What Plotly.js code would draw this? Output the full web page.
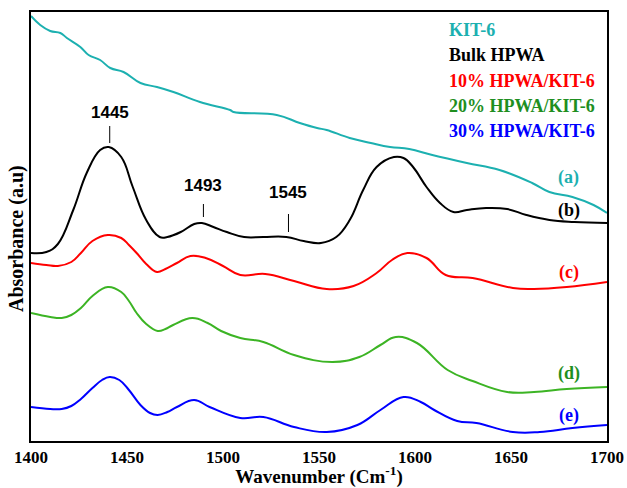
<!DOCTYPE html>
<html>
<head>
<meta charset="utf-8">
<script src="https://cdn.plot.ly/plotly-3.0.1.min.js"></script>
<style>html,body{margin:0;padding:0;background:#fff;}#chart{width:627px;height:488px;}</style>
</head>
<body>
<div id="chart"></div>
<script>
// (a) KIT-6
const kitX = [1400,1404.8,1410,1415.3,1418.7,1425.7,1430,1436,1441.3,1448.2,1457,1465.6,1474.2,1488,1503.7,1505.5,1528,1540,1549,1554,1566,1577,1587,1597,1609,1627,1644,1661,1670,1682,1693,1700];
const kitY = [425,416,410,408,403,394,386,381,373,369,358,354,349,339,331,329,326,318,313,311,303,298,294,292,286,278,271,258,249,244,236,228];
// (b) Bulk HPWA
const bulkX = [1400,1408,1414,1422,1429,1436,1440.5,1447,1453,1460,1467,1471,1478,1485,1489,1495,1502,1511,1521,1533,1542,1551,1559,1566,1573,1580,1589,1594,1599,1606,1613,1620,1627,1637,1648,1658,1670,1683,1700];
const bulkY = [188,189,197,231,268,291,294,284,254,221,204,204,209,217,218,214,209,204,204,204,200,198,204,221,251,274,284,283,274,254,238,229,231,233,232,226,221,219,218];
// (c) 10% HPWA/KIT-6
const p10X = [1400,1408,1414,1421,1426,1432,1440,1447,1451,1455,1460,1465.6,1470,1476,1483,1491,1500,1509,1522,1537,1554,1568,1580,1588,1596,1606,1616,1630,1651,1662,1679,1700];
const p10Y = [178,176,175,179,188,200,206,203,196,188,177,169,172,178,185,183,175,166,167,160,152,155,168,181,188,183,166,163,153,152,154,159];
// (d) 20% HPWA/KIT-6
const p20X = [1400,1410,1416,1421,1426,1432,1440,1447,1451,1455,1460,1466,1470,1474,1484,1492,1499,1509,1521,1537,1557,1571,1582,1590,1601,1617,1630,1648,1662,1679,1700];
const p20Y = [128,124,123,126,133,145,154,149,140,128,117,110,112,116,123,118,110,103,99,86,79,84,96,104,98,71,60,49,49,52,54];
// (e) 30% HPWA/KIT-6
const p30X = [1400,1410,1416,1421,1426,1432,1437,1441,1446,1451,1457,1462,1466,1471,1476,1485,1493,1509,1521,1537,1554,1570,1582,1594,1603,1610,1622,1632,1651,1665,1682,1700];
const p30Y = [34,32,32,35,42,53,61,64,61,51,36,28,26,29,34,41,34,23,24,14,9,16,31,44,39,31,20,18,9,9,13,16];

const legendNames = ["KIT-6","Bulk HPWA","10% HPWA/KIT-6","20% HPWA/KIT-6","30% HPWA/KIT-6"];
const curveLabels = ["(a)","(b)","(c)","(d)","(e)"];
const peakLabels = ["1445","1493","1545"];
const peakX = [1441,1489.8,1534.1];
const peakTickY0 = [298,224,209];
const peakTickY1 = [315,237,227];
const peakTextY = [329,256,249];

const lineColors = ["#1cb0b0","#000000","#ff0000","#3cb424","#0000ff"];
const textColors = ["#1cb0b0","#000000","#ff0000","#1f8f1f","#0000ff"];
const curveLabelX = 1680;
const curveLabelY = [264,231,169,68,26];

const xs = [kitX,bulkX,p10X,p20X,p30X];
const ys = [kitY,bulkY,p10Y,p20Y,p30Y];
const traces = xs.map((x,i)=>({
  x:x, y:ys[i], type:'scatter', mode:'lines', name:legendNames[i],
  line:{color:lineColors[i], width:2, shape:'spline', smoothing:1.2}, showlegend:false, hoverinfo:'skip'
}));

const serifB = {family:'"Liberation Serif", "Times New Roman", serif', weight:'bold'};
const annotations = [];
legendNames.forEach((n,i)=>{
  annotations.push({xref:'paper', yref:'paper', x:(447-31)/576, y:(441-(30+25.3*i))/429, xanchor:'left', yanchor:'middle',
    text:n, showarrow:false, font:Object.assign({size:18,color:textColors[i]},serifB)});
});
curveLabels.forEach((n,i)=>{
  annotations.push({x:curveLabelX, y:curveLabelY[i], xanchor:'center', yanchor:'middle', text:n, showarrow:false,
    font:Object.assign({size:18,color:textColors[i]},serifB)});
});
peakLabels.forEach((n,i)=>{
  annotations.push({x:peakX[i], y:peakTextY[i], xanchor:'center', yanchor:'middle', text:n, showarrow:false,
    font:{family:'"Liberation Sans", Arial, sans-serif', size:17, color:'#000', weight:'bold'}});
});
// y-axis title
annotations.push({xref:'paper', yref:'paper', x:(17-31)/576, y:(441-239)/429, xanchor:'center', yanchor:'middle',
  textangle:-90, text:'Absorbance (a.u)', showarrow:false, font:Object.assign({size:20,color:'#000'},serifB)});
const shapes = peakX.map((x,i)=>({type:'line', x0:x, x1:x, y0:peakTickY0[i], y1:peakTickY1[i], line:{color:'#000', width:1}}));

const layout = {
  width:627, height:488,
  margin:{l:31, r:20, t:12, b:47},
  paper_bgcolor:'#fff', plot_bgcolor:'#fff',
  xaxis:{range:[1400,1700], tickvals:[1400,1450,1500,1550,1600,1650,1700], ticks:'', showgrid:false, zeroline:false,
    showline:true, mirror:true, linecolor:'#000', linewidth:2,
    tickfont:Object.assign({size:17,color:'#000'},serifB),
    title:{text:'Wavenumber (Cm<sup>-1</sup>)', font:Object.assign({size:19,color:'#000'},serifB), standoff:6},
    automargin:false},
  yaxis:{range:[0,429], showticklabels:false, ticks:'', showgrid:false, zeroline:false,
    showline:true, mirror:true, linecolor:'#000', linewidth:2, automargin:false},
  annotations:annotations, shapes:shapes, showlegend:false
};
Plotly.newPlot('chart', traces, layout, {staticPlot:true, displayModeBar:false});
</script>
</body>
</html>
